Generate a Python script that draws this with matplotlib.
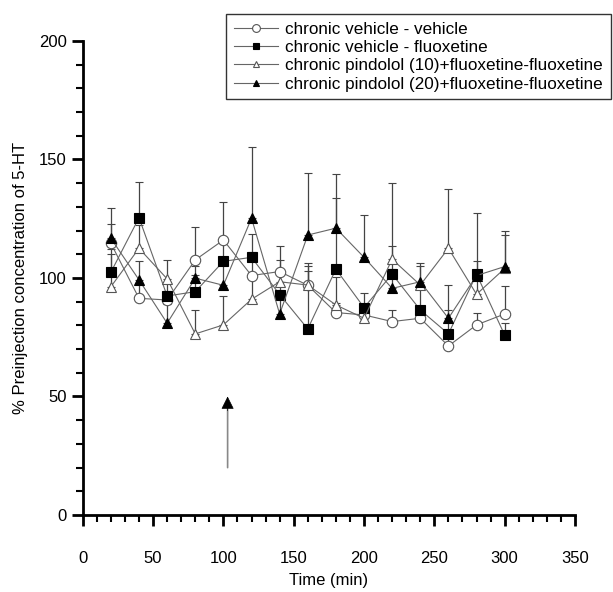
import numpy as np
import matplotlib.pyplot as plt
from matplotlib.ticker import MultipleLocator

plt.rcParams['font.family'] = ['Liberation Sans', 'DejaVu Sans']

time = [20, 40, 60, 80, 100, 120, 140, 160, 180, 200, 220, 240, 260, 280, 300]

veh_veh = [114.6, 91.4, 90.7, 107.6, 116, 101, 102.7, 96.9, 85.4, 84.4, 81.6, 83, 71.3, 80.2, 84.8]
veh_veh_err = [8, 6, 4, 14, 16, 10, 5, 6, 4, 4, 5, 5, 5, 5, 12]

veh_flx = [102.4, 125.4, 92.4, 94.2, 107, 108.7, 93, 78.5, 103.7, 87.5, 101.6, 86.5, 76.4, 101.6, 75.9]
veh_flx_err = [10, 15, 6, 7, 8, 10, 10, 28, 30, 6, 12, 10, 10, 26, 5]

pin10 = [96.3, 112.5, 99.6, 76.4, 80.2, 91, 98.4, 97, 88.6, 83, 107.9, 97, 112.5, 93.1, 104]
pin10_err = [14, 10, 8, 10, 12, 10, 15, 8, 12, 5, 32, 8, 25, 8, 14]

pin20 = [116.7, 99.2, 80.9, 99.9, 96.9, 125.2, 84.8, 118.1, 121, 108.7, 95.6, 98.4, 83, 101, 104.8]
pin20_err = [13, 8, 8, 5, 10, 30, 10, 26, 23, 18, 8, 8, 14, 6, 15]

labels = ['chronic vehicle - vehicle',
          'chronic vehicle - fluoxetine',
          'chronic pindolol (10)+fluoxetine-fluoxetine',
          'chronic pindolol (20)+fluoxetine-fluoxetine']

# injection time and arrow span
inj_t = 103
arrow_from, arrow_to = 20, 50

fig = plt.figure(figsize=(6.13, 5.92), dpi=100)
ax = fig.add_axes([0.135, 0.13, 0.803, 0.801])

series = [
    (veh_veh, veh_veh_err, 'o', 'white', '#555555', 7.5),
    (veh_flx, veh_flx_err, 's', 'black', 'black', 6.5),
    (pin10, pin10_err, '^', 'white', '#555555', 6.5),
    (pin20, pin20_err, '^', 'black', 'black', 6.5),
]

for (vals, err, m, fc, ec, ms), lab in zip(series, labels):
    yerr = [np.zeros(len(err)), err]
    ax.errorbar(time, vals, yerr=yerr, fmt='none', ecolor='#444444',
                elinewidth=0.9, capsize=3, capthick=0.8, zorder=2)
    ax.plot(time, vals, color='#666666', linewidth=0.8, marker=m, markersize=ms,
            markerfacecolor=fc, markeredgecolor=ec, markeredgewidth=0.8,
            label=lab, zorder=3)

# injection arrow: grey shaft, black head
ax.annotate('', xy=(inj_t, arrow_to - 3), xytext=(inj_t, arrow_from),
            arrowprops=dict(arrowstyle='-', color='#888888', lw=1.2,
                            shrinkA=0, shrinkB=0))
ax.annotate('', xy=(inj_t, arrow_to), xytext=(inj_t, arrow_to - 6),
            arrowprops=dict(arrowstyle='-|>', color='black', lw=0.5,
                            mutation_scale=20, shrinkA=0, shrinkB=0))

ax.set_xlim(0, 350)
ax.set_ylim(0, 200)
ax.spines['top'].set_visible(False)
ax.spines['right'].set_visible(False)
ax.spines['left'].set_linewidth(2)
ax.spines['bottom'].set_linewidth(2)

ax.xaxis.set_major_locator(MultipleLocator(50))
ax.xaxis.set_minor_locator(MultipleLocator(10))
ax.yaxis.set_major_locator(MultipleLocator(50))
ax.yaxis.set_minor_locator(MultipleLocator(10))
ax.tick_params(axis='both', which='major', length=8, width=2, labelsize=12)
ax.tick_params(axis='both', which='minor', length=5, width=1.5)
ax.tick_params(axis='x', which='major', pad=18)

ax.set_xlabel('Time (min)', fontsize=12, labelpad=5)
ax.set_ylabel('% Preinjection concentration of 5-HT', fontsize=12, labelpad=8)

leg = ax.legend(loc='upper right', bbox_to_anchor=(1.09, 1.075), fontsize=12.3,
                frameon=True, fancybox=False, edgecolor='black',
                handlelength=2.6, handletextpad=0.4, borderpad=0.45,
                labelspacing=0.2, markerscale=0.75)
leg.get_frame().set_linewidth(1.0)

fig.savefig('out.png', dpi=100)
